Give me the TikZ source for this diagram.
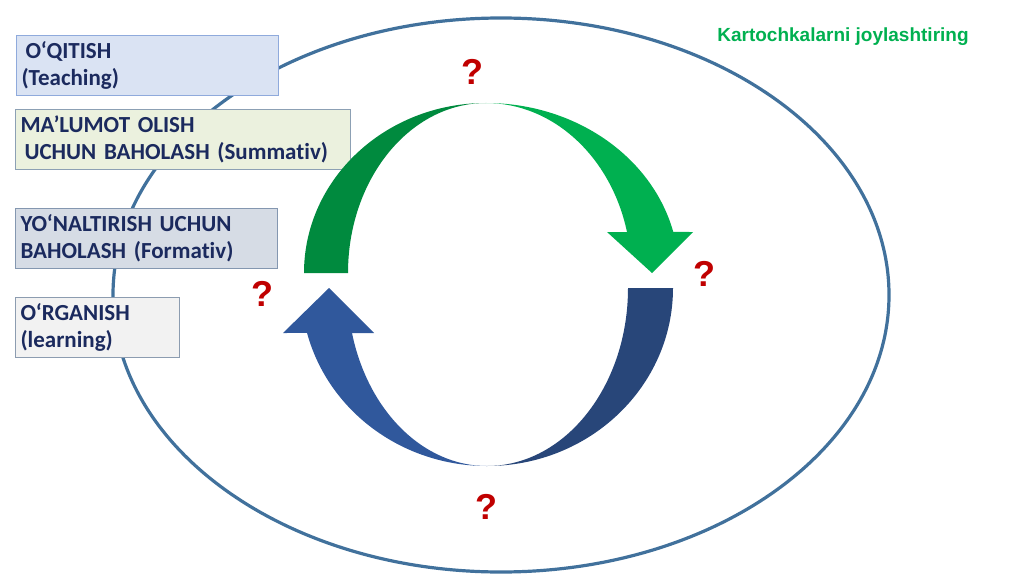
\documentclass[tikz,border=0pt]{standalone}
\usepackage{fontspec}
\setmainfont{Carlito}[RawFeature={-liga}, WordSpace=0.8]
\newfontfamily\arialfont{Liberation Sans}
\usetikzlibrary{positioning}
\definecolor{cardtext}{HTML}{1B2A5E}
\definecolor{ringblue}{HTML}{41719C}
\definecolor{qred}{HTML}{C00000}
\definecolor{titlegreen}{HTML}{00B050}
\definecolor{greenback}{HTML}{008A3E}
\definecolor{greenfront}{HTML}{00B050}
\definecolor{blueback}{HTML}{284679}
\definecolor{bluefront}{HTML}{30589C}
\tikzstyle{card} = [
    rectangle,
    anchor=north west,
    line width=1pt,
    inner xsep=5pt,
    minimum height=60pt,
    align=left,
    text=cardtext,
    font=\fontsize{23}{27}\selectfont\bfseries
]
\tikzstyle{qmark} = [
    text=qred,
    inner sep=0pt,
    font=\arialfont\bfseries\fontsize{36}{36}\selectfont
]
\tikzstyle{ring} = [
    draw=ringblue,
    line width=3.2pt
]
\begin{document}
\begin{tikzpicture}[x=1pt, y=1pt]
        \useasboundingbox (0,0) rectangle (1024,574);

        % outer ellipse
        \draw[ring] (501,279) ellipse [x radius=388, y radius=277];

        % cards (left column)
        \node[card, draw={rgb,255:red,143;green,170;blue,220}, fill={rgb,255:red,218;green,227;blue,243}, text width=252pt] (teach) at (16,539) {
            \hspace*{4pt}O‘QITISH\\
            (Teaching)
        };
        \node[card, draw={rgb,255:red,140;green,160;blue,180}, fill={rgb,255:red,235;green,241;blue,222}, text width=325pt] (summ) at (15,465) {
            MA’LUMOT OLISH\\
            \hspace*{4pt}UCHUN BAHOLASH (Summativ)
        };
        \node[card, draw={rgb,255:red,132;green,151;blue,176}, fill={rgb,255:red,214;green,220;blue,229}, text width=252pt] (form) at (15,366) {
            YO‘NALTIRISH UCHUN\\
            BAHOLASH (Formativ)
        };
        \node[card, draw={rgb,255:red,140;green,156;blue,176}, fill={rgb,255:red,242;green,242;blue,242}, text width=154pt] (learn) at (15,277) {
            O‘RGANISH\\
            (learning)
        };

        % green arrow - rear half
        \fill[greenback] (304,301) arc[start angle=180, end angle=90, x radius=182, y radius=170]
            arc[start angle=90, end angle=180, x radius=138, y radius=170] -- cycle;
        % green arrow - front half with head
        \fill[greenfront] (486,471) arc[start angle=90, end angle=13.96, x radius=193, y radius=170]
            -- (693,342) -- (652,301) -- (607,342) -- (627,342)
            arc[start angle=13.96, end angle=90, x radius=145.4, y radius=170] -- cycle;

        % blue arrow - rear half
        \fill[blueback] (673,286) arc[start angle=0, end angle=-90, x radius=186, y radius=178]
            arc[start angle=-90, end angle=0, x radius=141, y radius=178] -- cycle;
        % blue arrow - front half with head
        \fill[bluefront] (487,108) arc[start angle=270, end angle=194.64, x radius=186, y radius=178]
            -- (283,241) -- (329,286) -- (374,241) -- (352,241)
            arc[start angle=194.64, end angle=270, x radius=139.5, y radius=178] -- cycle;

        % question marks
        \node[qmark] (qtop) at (472,502) {?};
        \node[qmark] (qright) at (704,300) {?};
        \node[qmark] (qleft) at (262,280) {?};
        \node[qmark] (qbottom) at (486,67) {?};

        % title
        \node[text=titlegreen, font=\arialfont\bfseries\fontsize{19}{22}\selectfont] (title) at (843,537) {Kartochkalarni joylashtiring};
    \end{tikzpicture}
\end{document}
